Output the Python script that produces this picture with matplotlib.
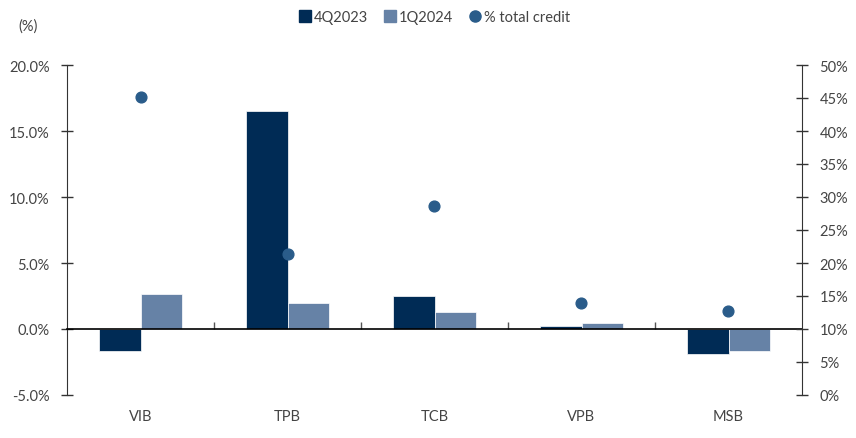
import numpy as np
import matplotlib
matplotlib.use('Agg')
import matplotlib.pyplot as plt
from matplotlib.ticker import FuncFormatter, MultipleLocator
from matplotlib.lines import Line2D

plt.rcParams['font.family'] = ['Lato', 'DejaVu Sans']

banks = ['VIB', 'TPB', 'TCB', 'VPB', 'MSB']
q4_2023 = [-1.67, 16.5, 2.52, 0.25, -1.9]
q1_2024 = [2.65, 2.0, 1.26, 0.45, -1.7]
total_credit = [45.2, 21.4, 28.7, 14.0, 12.8]

dark = '#002b55'
light = '#6682a6'
dot = '#2a5c8a'
txt = '#444444'

fig = plt.figure(figsize=(8.56, 4.39), dpi=100)
ax = fig.add_axes([67/856, 1-396/439, 735/856, 330/439])
ax2 = ax.twinx()

x = np.arange(len(banks))
w = 0.285
ax.bar(x - w/2, q4_2023, w, color=dark, edgecolor='white', linewidth=0.5, zorder=2)
ax.bar(x + w/2, q1_2024, w, color=light, edgecolor='white', linewidth=0.5, zorder=2)
ax2.scatter(x, total_credit, s=60, color=dot, zorder=3)

ax.set_xlim(-0.5, len(banks) - 0.5)
ax.set_ylim(-5, 20)
ax2.set_ylim(0, 50)
ax.yaxis.set_major_locator(MultipleLocator(5))
ax2.yaxis.set_major_locator(MultipleLocator(5))
ax.yaxis.set_major_formatter(FuncFormatter(lambda v, p: f'{v:.1f}%'))
ax2.yaxis.set_major_formatter(FuncFormatter(lambda v, p: f'{v:.0f}%'))

for a in (ax, ax2):
    for s in ('top', 'bottom'):
        a.spines[s].set_visible(False)
ax.spines['right'].set_visible(False)
ax2.spines['left'].set_visible(False)
ax.spines['left'].set_color('#333333')
ax2.spines['right'].set_color('#333333')

ax.tick_params(axis='y', direction='inout', length=9, width=1, colors='#333333',
               labelcolor=txt, labelsize=10.5, pad=8)
ax2.tick_params(axis='y', direction='inout', length=9, width=1, colors='#333333',
                labelcolor=txt, labelsize=10.5, pad=8)

ax.set_xticks(x)
ax.set_xticklabels(banks)
ax.tick_params(axis='x', length=0, labelcolor=txt, labelsize=10.5, pad=10)

# zero line with small ticks between categories
zero = ax.secondary_xaxis(5 / 25)
zero.set_zorder(4)
zero.spines['bottom'].set_color('black')
zero.spines['bottom'].set_linewidth(1.2)
zero.set_xticks(x[:-1] + 0.5)
zero.tick_params(axis='x', direction='in', length=5, width=1, colors='#555555', labelbottom=False)

fig.text(18/856, 1-27/439, '(%)', color=txt, fontsize=10.5, va='center')

handles = [
    Line2D([], [], marker='s', linestyle='none', color=dark, markersize=8),
    Line2D([], [], marker='s', linestyle='none', color=light, markersize=8),
    Line2D([], [], marker='o', linestyle='none', color=dot, markersize=8),
]
fig.legend(handles, ['4Q2023', '1Q2024', '% total credit'], loc='center',
           bbox_to_anchor=(434/856, 1-18/439), ncol=3, frameon=False,
           fontsize=10.5, handletextpad=0.1, columnspacing=1.0, labelcolor=txt,
           handlelength=1)

fig.savefig('out.png', dpi=100)
